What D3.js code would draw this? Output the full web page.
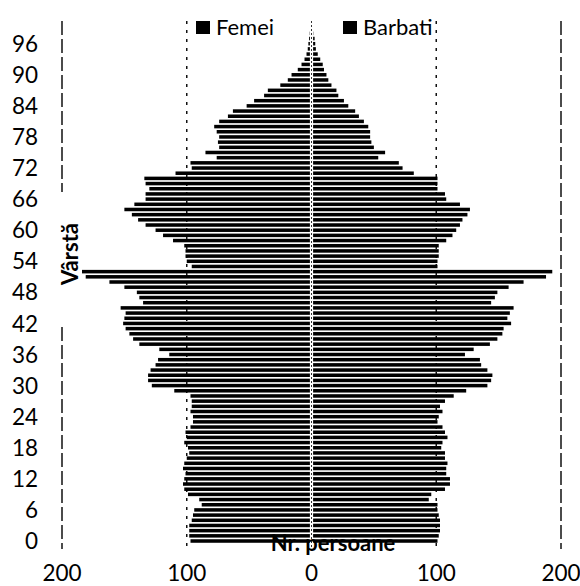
<!DOCTYPE html>
<html>
<head>
<meta charset="utf-8">
<script src="https://cdn.jsdelivr.net/npm/d3@7"></script>
<style>
  html, body { margin: 0; padding: 0; background: #fff; }
  svg { display: block; }
  text { font-family: Lato, "Open Sans", sans-serif; fill: #000; }
</style>
</head>
<body>
<svg id="chart" width="580" height="586"></svg>
<script>
// Ages 0..100
const ages = d3.range(0, 101);

// Femei (left side), index = age
const femei = [
  97, 98, 98, 98, 96, 95, 94, 88, 90, 99,
  102, 103, 102, 101, 103, 102, 100, 98, 99, 102,
  100, 101, 97, 95, 95, 97, 96, 96, 97, 110,
  128, 131, 131, 129, 125, 123, 114, 122, 138, 143,
  146, 149, 151, 150, 149, 153, 135, 138, 140, 150,
  162, 181, 184, 96, 100, 101, 101, 102, 111, 119,
  125, 133, 139, 144, 150, 142, 133, 133, 130, 133,
  134, 109, 96, 97, 76, 85, 74, 75, 74, 76,
  78, 74, 67, 63, 52, 46, 38, 35, 25, 19,
  16, 11, 8, 5.6, 4, 3, 2.5, 2, 1.5, 1,
  0.5
];

// Barbati (right side), index = age
const barbati = [
  101, 102, 103, 103, 103, 102, 101, 101, 94, 96,
  107, 111, 111, 108, 108, 109, 107, 107, 104, 105,
  109, 107, 105, 101, 102, 105, 103, 107, 114, 124,
  141, 144, 145, 141, 136, 135, 123, 130, 143, 149,
  153, 154, 160, 157, 159, 162, 144, 147, 149, 158,
  170, 188, 193, 101, 101, 102, 102, 102, 108, 113,
  116, 119, 121, 125, 127, 119, 108, 107, 101, 101,
  101, 82, 73, 70, 53.5, 59, 50, 48, 47, 47,
  45.5, 42, 38, 35, 29.5, 26, 21.5, 20, 16, 13.5,
  12, 10, 9, 7, 5, 3.5, 3, 2.5, 1.5, 1,
  0.5
];

const yTickAges = [0, 6, 12, 18, 24, 30, 36, 42, 48, 54, 60, 66, 72, 78, 84, 90, 96];
const xTickValues = [-200, -100, 0, 100, 200];
const gridValues = [-200, -100, 100, 200];
const seriesNames = ["Femei", "Barbati"];
const yTitle = "Vârstă";
const xTitle = "Nr. persoane";

const svg = d3.select("#chart");

const x = d3.scaleLinear().domain([-200, 200]).range([62, 561]);
const y = d3.scaleBand().domain(ages).range([543.6, 20.4]).paddingInner(0.32).paddingOuter(0.16);

const plotTop = 21, plotBottom = 549;

// gridlines
svg.append("g").selectAll("line").data(gridValues).join("line")
  .attr("x1", d => x(d)).attr("x2", d => x(d))
  .attr("y1", plotTop).attr("y2", plotBottom)
  .attr("stroke", "#111").attr("stroke-width", 1.5)
  .attr("stroke-dasharray", d => Math.abs(d) === 200 ? "14,4" : "3,6");

// zero line
svg.append("line")
  .attr("x1", x(0)).attr("x2", x(0)).attr("y1", plotTop).attr("y2", plotBottom)
  .attr("stroke", "#333").attr("stroke-width", 1).attr("stroke-dasharray", "2,2");

// bars
const gap = 1.6;
svg.append("g").selectAll("rect").data(ages).join("rect")
  .attr("x", a => x(-femei[a]))
  .attr("y", a => y(a))
  .attr("width", a => Math.max(0, x(0) - gap - x(-femei[a])))
  .attr("height", y.bandwidth())
  .attr("fill", "#000");

svg.append("g").selectAll("rect").data(ages).join("rect")
  .attr("x", x(0) + gap)
  .attr("y", a => y(a))
  .attr("width", a => Math.max(0, x(barbati[a]) - x(0) - gap))
  .attr("height", y.bandwidth())
  .attr("fill", "#000");

// y tick labels
svg.append("g").selectAll("text").data(yTickAges).join("text")
  .attr("x", 38)
  .attr("y", a => y(a) + y.bandwidth() / 2)
  .attr("dy", "0.36em")
  .attr("text-anchor", "end")
  .attr("font-size", 22.5)
  .text(a => a);

// x tick labels
svg.append("g").selectAll("text").data(xTickValues).join("text")
  .attr("x", d => x(d))
  .attr("y", 581)
  .attr("text-anchor", "middle")
  .attr("font-size", 22.5)
  .text(d => Math.abs(d));

// y title with white box hiding the gridline behind it
svg.append("rect")
  .attr("x", 58).attr("y", 192).attr("width", 24).attr("height", 135)
  .attr("fill", "#fff");
svg.append("text")
  .attr("transform", "translate(78,254) rotate(-90)")
  .attr("text-anchor", "middle")
  .attr("font-size", 22)
  .attr("font-weight", "bold")
  .text(yTitle);

// x title
svg.append("text")
  .attr("x", 333).attr("y", 551)
  .attr("text-anchor", "middle")
  .attr("font-size", 22)
  .attr("font-weight", "bold")
  .text(xTitle);

// legend
const legendX = [196, 343];
const lg = svg.append("g").selectAll("g").data(seriesNames).join("g")
  .attr("transform", (d, i) => `translate(${legendX[i]},21)`);
lg.append("rect").attr("width", 14).attr("height", 13).attr("fill", "#000");
lg.append("text").attr("x", 20).attr("y", 14).attr("font-size", 22).text(d => d);
</script>
</body>
</html>
